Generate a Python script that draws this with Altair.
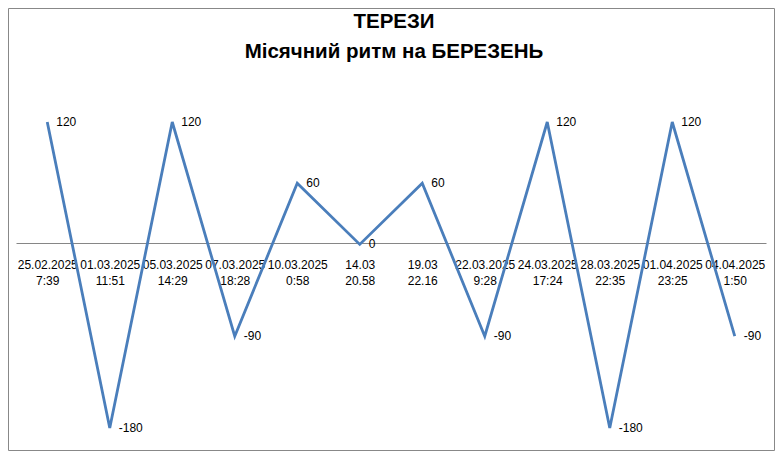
import altair as alt
import pandas as pd

dates = ["25.02.2025\n7:39", "01.03.2025\n11:51", "05.03.2025\n14:29", "07.03.2025\n18:28",
         "10.03.2025\n0:58", "14.03\n20.58", "19.03\n22.16", "22.03.2025\n9:28",
         "24.03.2025\n17:24", "28.03.2025\n22:35", "01.04.2025\n23:25", "04.04.2025\n1:50"]
values = [120, -180, 120, -90, 60, 0, 60, -90, 120, -180, 120, -90]
title_lines = ["ТЕРЕЗИ", "Місячний ритм на БЕРЕЗЕНЬ"]

df = pd.DataFrame({"d": dates, "v": values, "lbl": [str(v) for v in values]})
FONT = "Liberation Sans"

x = alt.X("d:N", sort=None, title=None,
          scale=alt.Scale(type="point", padding=0.5),
          axis=alt.Axis(offset=-185, domainColor="#868686", domainWidth=1, ticks=False,
                        labelAngle=0, labelFont=FONT, labelFontSize=12, labelColor="#000",
                        labelPadding=16, labelLineHeight=16, labelBaseline="top",
                        labelExpr="split(datum.label, '\\n')", grid=False))
y = alt.Y("v:Q", title=None, scale=alt.Scale(domain=[-180, 120], nice=False, zero=False),
          axis=None)

base = alt.Chart(df)
line = base.mark_line(color="#4A7EBB", strokeWidth=2.8).encode(x=x, y=y)
labels = base.mark_text(align="left", baseline="middle", dx=9, font=FONT, fontSize=12,
                        color="#000").encode(x=alt.X("d:N", sort=None), y="v:Q", text="lbl:N")

one = pd.DataFrame({"a": [0]})
border = alt.Chart(one).mark_rect(
    fillOpacity=0, stroke="#888888", strokeWidth=1).encode(
    x=alt.value(-7.5), x2=alt.value(758.5), y=alt.value(-113.5), y2=alt.value(328.5))

t1 = alt.Chart(one).mark_text(text=title_lines[0], font=FONT, fontSize=20.5, fontWeight="bold",
                              color="#000", align="center", baseline="middle").encode(
    x=alt.value(378), y=alt.value(-100))
t2 = alt.Chart(one).mark_text(text=title_lines[1], font=FONT, fontSize=20.5, fontWeight="bold",
                              color="#000", align="center", baseline="middle").encode(
    x=alt.value(378), y=alt.value(-70))

chart = alt.layer(border, t1, t2, line, labels).properties(
    width=750, height=306,
    padding={"left": 8, "top": 114, "right": 9, "bottom": 23},
    autosize=alt.AutoSizeParams(type="none"),
).configure_view(stroke=None)

chart.save("out.html", embed_options={"renderer": "svg", "actions": False})
